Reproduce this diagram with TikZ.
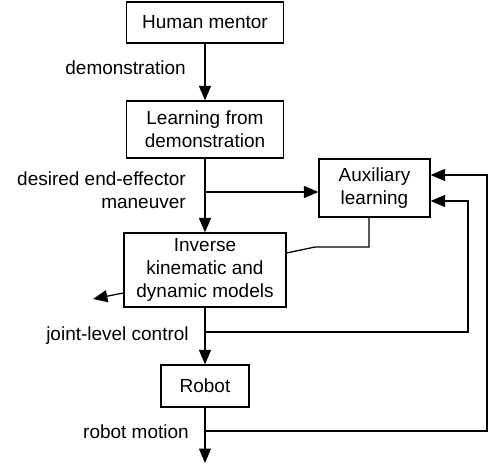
\documentclass[tikz,border=0pt]{standalone}
\usepackage{fontspec}
\setmainfont{Liberation Sans}
\usetikzlibrary{arrows.meta}

\begin{document}
\begin{tikzpicture}[x=0.025cm,y=-0.025cm,
  font=\fontsize{13.5}{16.3}\selectfont,
  box/.style={draw,line width=0.9pt,align=center,inner sep=2pt},
  lbl/.style={anchor=east,inner sep=0pt,align=right},
  wire/.style={line width=0.9pt},
  arr/.style={wire,-{Triangle[length=0.36cm,width=0.3cm]}}]
\useasboundingbox (0,0) rectangle (488,465);
\node[box,minimum width=3.925cm,minimum height=1.025cm] (mentor) at (205,22.5) {Human mentor};
\node[box,minimum width=3.925cm,minimum height=1.425cm] (lfd) at (205,129.5) {Learning from\\demonstration};
\node[box,minimum width=2.775cm,minimum height=1.45cm] (aux) at (374.5,188) {Auxiliary\\learning};
\node[box,minimum width=4.05cm,minimum height=1.85cm] (ik) at (205,270) {Inverse\\kinematic and\\dynamic models};
\node[box,minimum width=2.2cm,minimum height=1.05cm] (robot) at (205,386) {Robot};
\node[lbl] (demo) at (186,68) {demonstration};
\node[lbl] (desired) at (186,190) {desired end-effector\\maneuver};
\node[lbl] (joint) at (189,336) {joint-level control};
\node[lbl] (motion) at (189,432) {robot motion};
\coordinate (split) at (205,192);
\coordinate (jc) at (205,332);
\coordinate (rm) at (205,431);
\coordinate (out) at (205,463);
\coordinate (lout) at (93,299);
\draw[arr] (mentor) -- (lfd);
\draw[arr] (lfd) -- (ik);
\draw[arr] (split) -- (split -| aux.west);
\draw[arr] (ik) -- (robot);
\draw[arr] (robot) -- (out);
\draw[arr] (jc) -| (468,201) -- (aux.east |- 0,201);
\draw[arr] (rm) -| (487,175) -- (aux.east |- 0,175);
\draw[wire] (aux.south -| 369,0) -- (369,247) -- (315,247) -- (ik.east |- 0,253);
\draw[arr] (ik.west |- 0,293) -- (lout);
\end{tikzpicture}
\end{document}
